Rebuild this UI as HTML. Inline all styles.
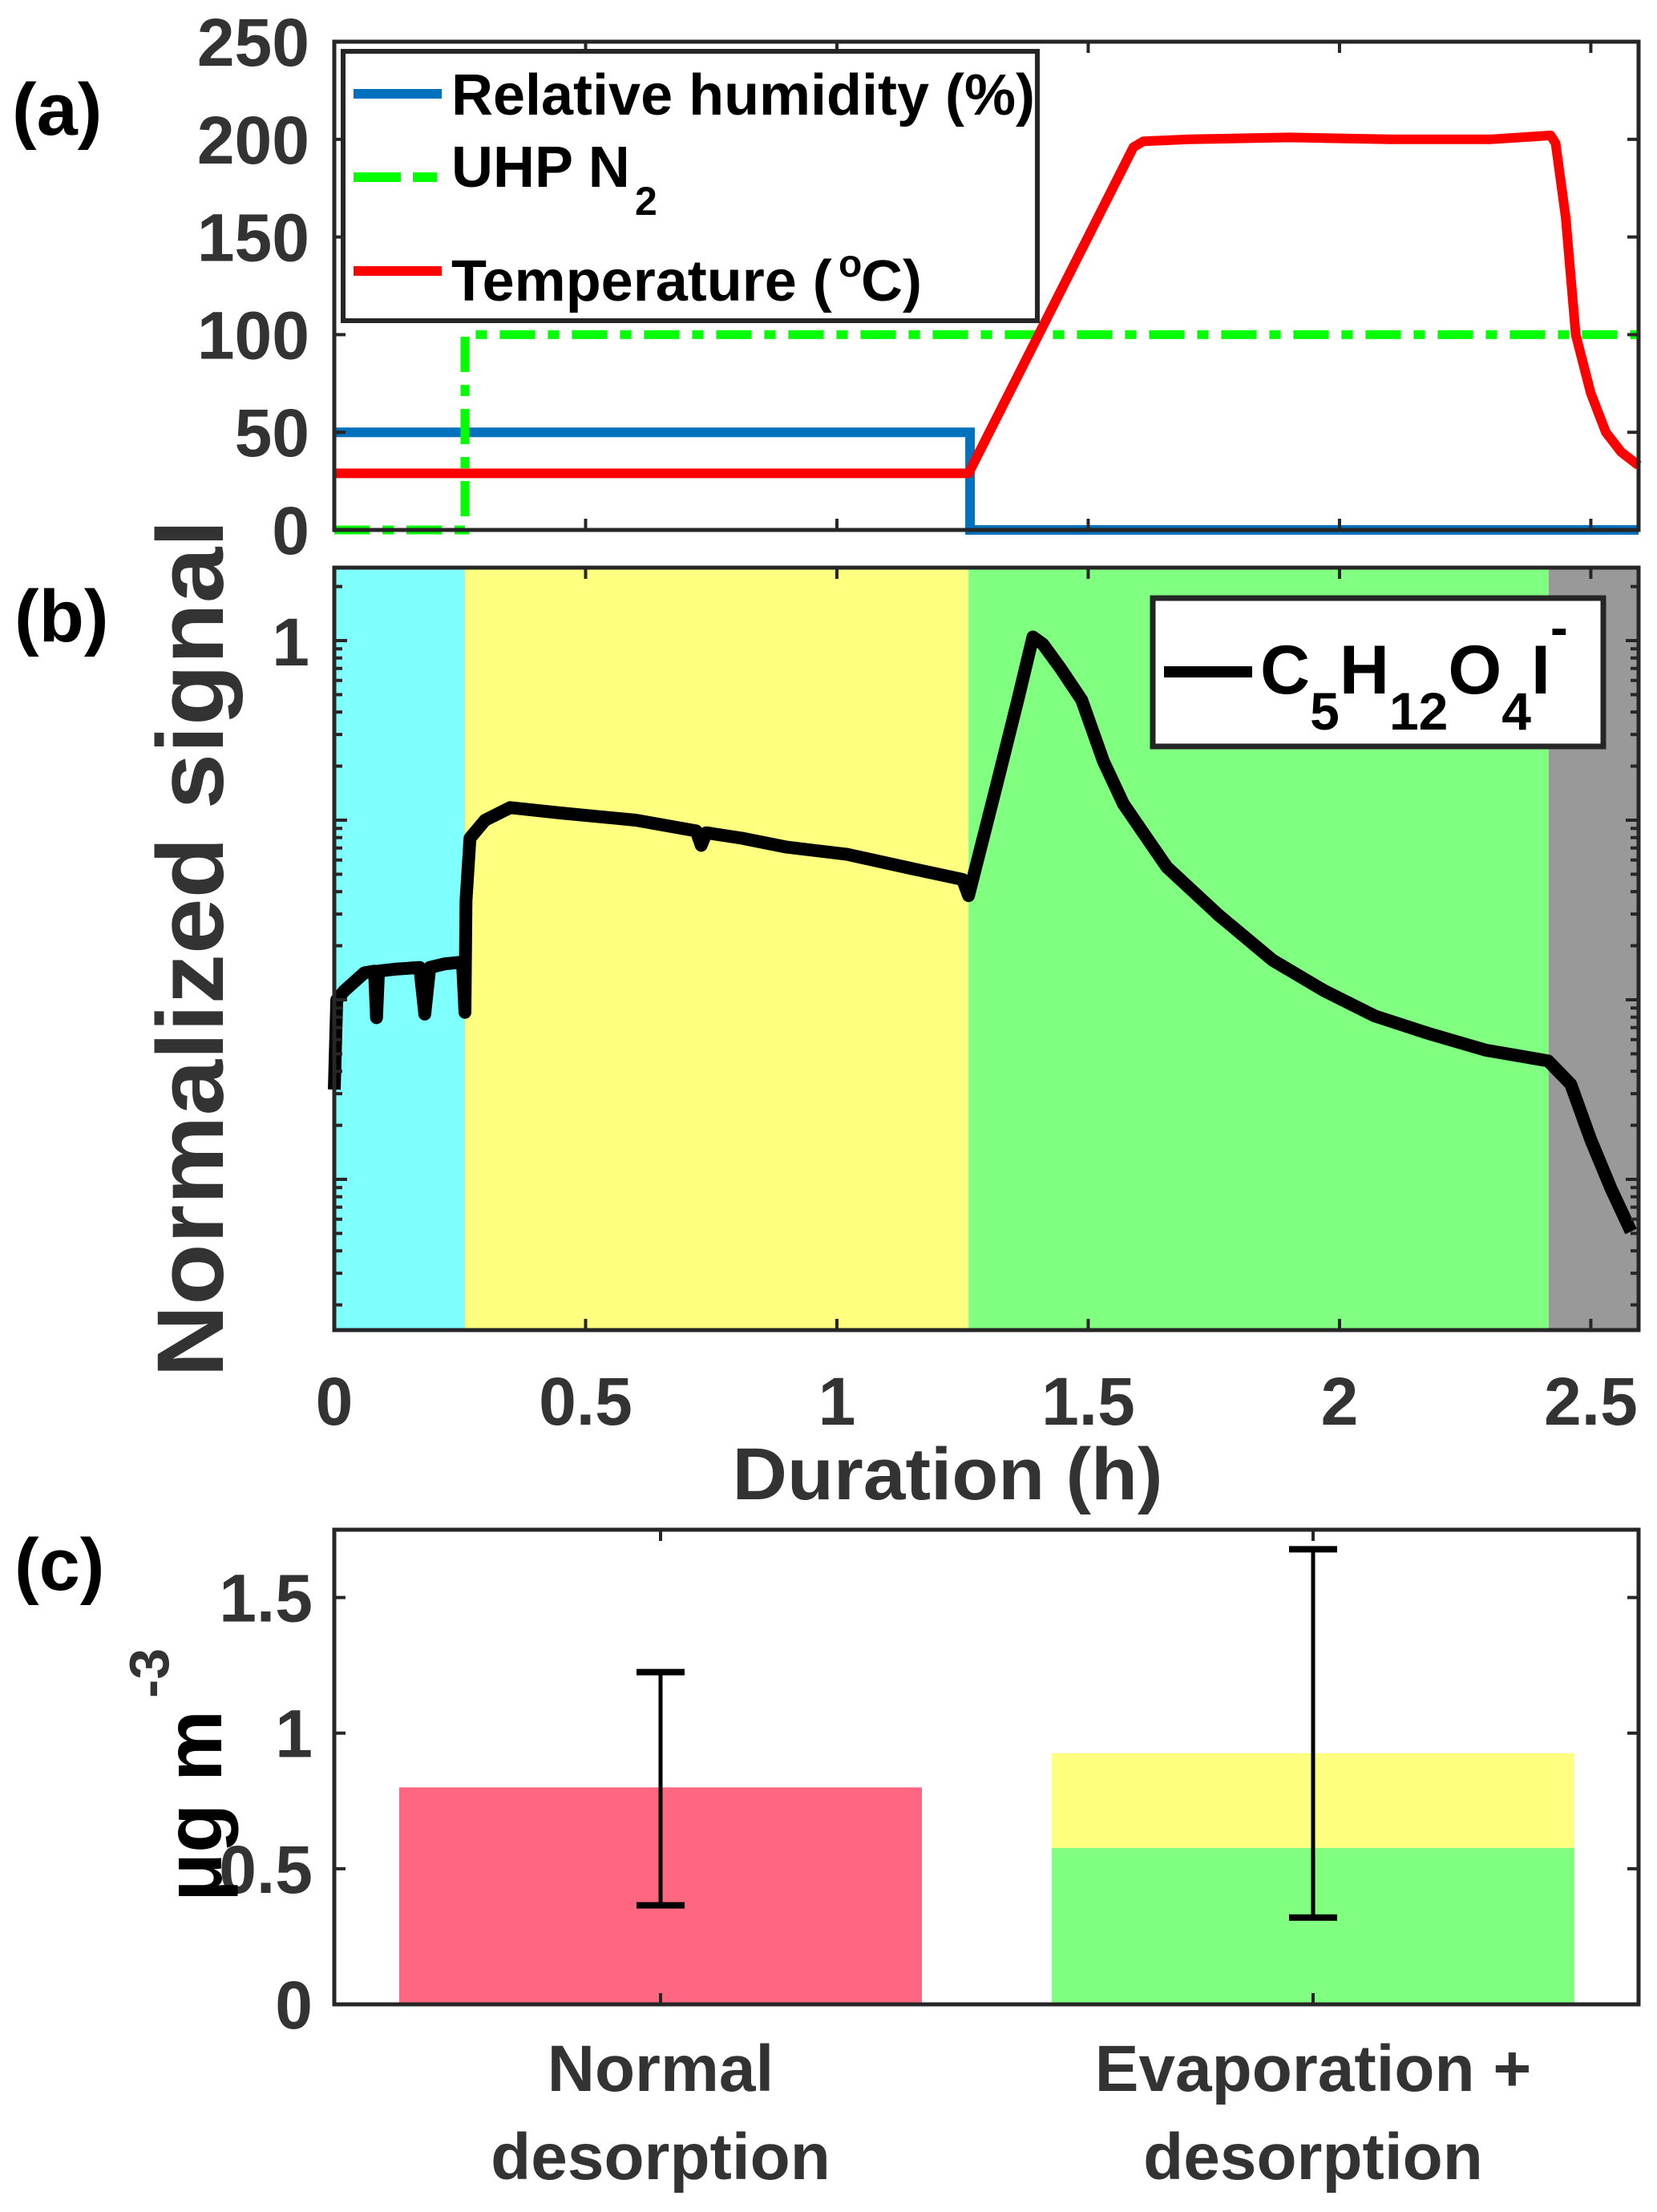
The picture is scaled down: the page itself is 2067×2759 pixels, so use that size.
<!DOCTYPE html>
<html><head><meta charset="utf-8"><style>
html,body{margin:0;padding:0;background:#fff;}
svg{display:block;font-family:"Liberation Sans",Arial,sans-serif;font-weight:bold;}
</style></head><body>
<svg id="fig" width="2067" height="2759" viewBox="0 0 2067 2759" xmlns="http://www.w3.org/2000/svg">
<g id="pa"></g>
<g id="pb"></g>
<g id="pc"></g>
</svg>
<script>
// ---------- Panel (a) data ----------
const rhTime = [0, 1.265, 1.265, 2.595];
const rhVals = [50, 50, 0, 0];
const n2Time = [0, 0.26, 0.26, 2.595];
const n2Vals = [0, 0, 100, 100];
const tempTime = [0, 0.5, 1.0, 1.262, 1.59, 1.61, 1.7, 1.9, 2.1, 2.3, 2.42, 2.43, 2.45, 2.47, 2.5, 2.53, 2.56, 2.595];
const tempVals = [29, 29, 29, 29, 196, 199, 200, 201, 200, 200, 202, 198, 160, 100, 70, 50, 40, 33];
const aYTicks = [0, 50, 100, 150, 200, 250];
const xTicks = [0, 0.5, 1, 1.5, 2, 2.5];
const xTickLabels = ["0", "0.5", "1", "1.5", "2", "2.5"];
// ---------- Panel (b) data ----------
const phaseStarts = [0, 0.26, 1.262, 2.416];
const phaseEnds = [0.26, 1.262, 2.416, 2.595];
const sigTime = [0, 0.005, 0.02, 0.06, 0.08, 0.084, 0.088, 0.12, 0.17, 0.18, 0.19, 0.22, 0.255, 0.26, 0.262, 0.27, 0.3, 0.35, 0.45, 0.6, 0.72, 0.73, 0.74, 0.81, 0.9, 1.02, 1.15, 1.25, 1.262, 1.3, 1.32, 1.36, 1.39, 1.41, 1.445, 1.487, 1.53, 1.57, 1.656, 1.76, 1.867, 1.97, 2.07, 2.18, 2.29, 2.415, 2.46, 2.5, 2.54, 2.58];
const sigLog = [-2.5, -2.0, -1.95, -1.85, -1.84, -2.1, -1.84, -1.83, -1.82, -2.08, -1.82, -1.8, -1.79, -2.07, -1.45, -1.1, -1.0, -0.93, -0.96, -1.0, -1.06, -1.14, -1.07, -1.1, -1.15, -1.19, -1.27, -1.33, -1.42, -1.0, -0.78, -0.33, 0.02, -0.02, -0.155, -0.33, -0.67, -0.91, -1.26, -1.53, -1.78, -1.95, -2.09, -2.19, -2.28, -2.34, -2.47, -2.78, -3.05, -3.29];
// ---------- Panel (c) data ----------
const cCats = ["Normal|desorption", "Evaporation +|desorption"];
const cLower = [0.80, 0.577];
const cUpper = [0, 0.349];
const cErrLo = [0.365, 0.32];
const cErrHi = [1.225, 1.678];
const cYTicks = [0, 0.5, 1, 1.5];
const cYTickLabels = ["0", "0.5", "1", "1.5"];

const NS = "http://www.w3.org/2000/svg";
function mk(parent, tag, attrs, text) {
  const e = document.createElementNS(NS, tag);
  for (const k in attrs) e.setAttribute(k, attrs[k]);
  if (text !== undefined) e.textContent = text;
  parent.appendChild(e);
  return e;
}
const L = 417, R = 2044;
const X = h => L + (h / 2.595) * (R - L);
const AX = "#262626", TXT = "#333";

// ===== Panel A =====
const pa = document.getElementById("pa");
const aTop = 52, aBot = 661;
const YA = v => aBot - v / 250 * (aBot - aTop);
function pathFrom(ts, vs, fx, fy) { return ts.map((t, i) => (i ? "L" : "M") + fx(t).toFixed(1) + "," + fy(vs[i]).toFixed(1)).join(""); }
let e;
e = mk(pa, "path", {d: pathFrom(rhTime, rhVals, X, YA), fill: "none", stroke: "#0072BD", "stroke-width": 12});
 
e = mk(pa, "path", {d: pathFrom(n2Time, n2Vals, X, YA), fill: "none", stroke: "#00FF00", "stroke-width": 11, "stroke-dasharray": "44 16 14 16"});
 
e = mk(pa, "path", {d: pathFrom(tempTime, tempVals, X, YA), fill: "none", stroke: "#FF0000", "stroke-width": 12, "stroke-linejoin": "round"});
 
e = mk(pa, "rect", {x: L, y: aTop, width: R - L, height: aBot - aTop, fill: "none", stroke: AX, "stroke-width": 5});
 
aYTicks.forEach(v => {
  mk(pa, "line", {x1: L, x2: L + 14, y1: YA(v), y2: YA(v), stroke: AX, "stroke-width": 4});
  mk(pa, "line", {x1: R, x2: R - 14, y1: YA(v), y2: YA(v), stroke: AX, "stroke-width": 4});
  const t = mk(pa, "text", {x: 386, y: YA(v) + 30, "text-anchor": "end", "font-size": 84, fill: TXT}, String(v));
   
});
xTicks.forEach(h => {
  mk(pa, "line", {x1: X(h), x2: X(h), y1: aBot, y2: aBot - 14, stroke: AX, "stroke-width": 4});
  mk(pa, "line", {x1: X(h), x2: X(h), y1: aTop, y2: aTop + 14, stroke: AX, "stroke-width": 4});
});
e = mk(pa, "text", {x: 15, y: 168, "font-size": 92, fill: "#000"}, "(a)");
 
// legend A
const lga = mk(pa, "g", {});
 
mk(lga, "rect", {x: 428, y: 64, width: 866, height: 336, fill: "#fff", stroke: AX, "stroke-width": 6});
mk(lga, "line", {x1: 441, x2: 551, y1: 117, y2: 117, stroke: "#0072BD", "stroke-width": 12});
mk(lga, "line", {x1: 441, x2: 551, y1: 221, y2: 221, stroke: "#00FF00", "stroke-width": 12, "stroke-dasharray": "59 15 30 100"});
mk(lga, "line", {x1: 441, x2: 551, y1: 338, y2: 338, stroke: "#FF0000", "stroke-width": 12});
e = mk(lga, "text", {x: 563, y: 143, "font-size": 72, fill: "#000", textLength: 728, lengthAdjust: "spacingAndGlyphs"}, "Relative humidity (%)");
 
e = mk(lga, "text", {x: 563, y: 233, "font-size": 72, fill: "#000"}, "UHP N");
 
mk(lga, "text", {x: 792, y: 268, "font-size": 50, fill: "#000"}, "2");
e = mk(lga, "text", {x: 563, y: 375, "font-size": 72, fill: "#000"}, "Temperature (");
 
mk(lga, "text", {x: 1046, y: 345, "font-size": 48, fill: "#000"}, "o");
mk(lga, "text", {x: 1074, y: 375, "font-size": 72, fill: "#000"}, "C)");

// ===== Panel B =====
const pb = document.getElementById("pb");
const bTop = 708, bBot = 1659, y1 = 799, dec = 224;
const YB = lg => y1 - lg * dec;
const phaseColors = ["#80FFFF", "#FFFF80", "#80FF80", "#999999"];
const phaseNames = ["phase-cyan", "phase-yellow", "phase-green", "phase-gray"];
phaseStarts.forEach((s, i) => {
  const r = mk(pb, "rect", {x: X(s), y: bTop, width: X(phaseEnds[i]) - X(s), height: bBot - bTop, fill: phaseColors[i]});
   
});
e = mk(pb, "path", {d: pathFrom(sigTime, sigLog, X, YB), fill: "none", stroke: "#000", "stroke-width": 16, "stroke-linejoin": "round"});
 
e = mk(pb, "rect", {x: L, y: bTop, width: R - L, height: bBot - bTop, fill: "none", stroke: AX, "stroke-width": 5});
 
for (let d = -4; d <= 0; d++) {
  for (let m = 1; m <= 9; m++) {
    const y = YB(d + Math.log10(m));
    if (y < bTop || y > bBot) continue;
    const len = m === 1 ? 16 : 10;
    mk(pb, "line", {x1: L, x2: L + len, y1: y, y2: y, stroke: AX, "stroke-width": 4});
    mk(pb, "line", {x1: R, x2: R - len, y1: y, y2: y, stroke: AX, "stroke-width": 4});
  }
}
mk(pb, "line", {x1: L, x2: L + 10, y1: YB(Math.log10(2)), y2: YB(Math.log10(2)), stroke: AX, "stroke-width": 4});
e = mk(pb, "text", {x: 386, y: 830, "text-anchor": "end", "font-size": 84, fill: TXT}, "1");
 
xTicks.forEach((h, i) => {
  mk(pb, "line", {x1: X(h), x2: X(h), y1: bBot, y2: bBot - 14, stroke: AX, "stroke-width": 4});
  mk(pb, "line", {x1: X(h), x2: X(h), y1: bTop, y2: bTop + 14, stroke: AX, "stroke-width": 4});
  const t = mk(pb, "text", {x: X(h), y: 1777, "text-anchor": "middle", "font-size": 84, fill: TXT}, xTickLabels[i]);
   
});
e = mk(pb, "text", {x: 1182, y: 1870, "text-anchor": "middle", "font-size": 92, fill: TXT, textLength: 537, lengthAdjust: "spacingAndGlyphs"}, "Duration (h)");
 
e = mk(pb, "text", {x: 0, y: 0, transform: "translate(278,1183) rotate(-90)", "text-anchor": "middle", "font-size": 118, fill: TXT, textLength: 1070, lengthAdjust: "spacingAndGlyphs"}, "Normalized signal");
 
e = mk(pb, "text", {x: 18, y: 800, "font-size": 92, fill: "#000"}, "(b)");
 
const lgb = mk(pb, "g", {});
 
mk(lgb, "rect", {x: 1438, y: 746, width: 562, height: 185, fill: "#fff", stroke: AX, "stroke-width": 7});
mk(lgb, "line", {x1: 1452, x2: 1562, y1: 838, y2: 838, stroke: "#000", "stroke-width": 14});
const ft = mk(lgb, "text", {x: 1572, y: 865, "font-size": 86, fill: "#000"});
[["C", 0, 86], ["5", 45, 66], ["H", -45, 86], ["12", 45, 66], ["O", -45, 86], ["4", 45, 66], ["I", -45, 86], ["-", -60, 66]].forEach(p => {
  mk(ft, "tspan", {dy: p[1], "font-size": p[2]}, p[0]);
});

// ===== Panel C =====
const pc = document.getElementById("pc");
const cTop = 1908, cBot = 2500;
const YC = v => cBot - v / 1.75 * (cBot - cTop);
const barLeft = [498, 1312], barW = 652, barCx = [824, 1638];
cCats.forEach((c, i) => {
  let r = mk(pc, "rect", {x: barLeft[i], y: YC(cLower[i]), width: barW, height: cBot - YC(cLower[i]), fill: i === 0 ? "#FF6680" : "#80FF80"});
  
  
  if (cUpper[i] > 0) {
    r = mk(pc, "rect", {x: barLeft[i], y: YC(cLower[i] + cUpper[i]), width: barW, height: YC(cLower[i]) - YC(cLower[i] + cUpper[i]), fill: "#FFFF80"});
    
    
  }
});
e = mk(pc, "rect", {x: L, y: cTop, width: R - L, height: cBot - cTop, fill: "none", stroke: AX, "stroke-width": 5});
 
cCats.forEach((c, i) => {
  const g = mk(pc, "g", {});
   
  mk(g, "line", {x1: barCx[i], x2: barCx[i], y1: YC(cErrLo[i]), y2: YC(cErrHi[i]), stroke: "#000", "stroke-width": 5});
  mk(g, "line", {x1: barCx[i] - 30, x2: barCx[i] + 30, y1: YC(cErrLo[i]), y2: YC(cErrLo[i]), stroke: "#000", "stroke-width": 8});
  mk(g, "line", {x1: barCx[i] - 30, x2: barCx[i] + 30, y1: YC(cErrHi[i]), y2: YC(cErrHi[i]), stroke: "#000", "stroke-width": 8});
  mk(pc, "line", {x1: barCx[i], x2: barCx[i], y1: cBot, y2: cBot - 14, stroke: AX, "stroke-width": 4});
  mk(pc, "line", {x1: barCx[i], x2: barCx[i], y1: cTop, y2: cTop + 14, stroke: AX, "stroke-width": 4});
  const parts = c.split("|");
  parts.forEach((p, k) => {
    const t = mk(pc, "text", {x: barCx[i], y: 2608 + k * 110, "text-anchor": "middle", "font-size": 82, fill: TXT}, p);
     
  });
});
cYTicks.forEach((v, i) => {
  mk(pc, "line", {x1: L, x2: L + 14, y1: YC(v), y2: YC(v), stroke: AX, "stroke-width": 4});
  mk(pc, "line", {x1: R, x2: R - 14, y1: YC(v), y2: YC(v), stroke: AX, "stroke-width": 4});
  const t = mk(pc, "text", {x: 390, y: YC(v) + 30, "text-anchor": "end", "font-size": 84, fill: TXT}, cYTickLabels[i]);
   
});
e = mk(pc, "text", {x: 0, y: 0, transform: "translate(276,2372) rotate(-90)", "font-size": 100, fill: "#000"}, "μg m");
 
mk(pc, "text", {x: 0, y: 0, transform: "translate(210,2118) rotate(-90)", "font-size": 70, fill: TXT}, "-3");
e = mk(pc, "text", {x: 18, y: 1983, "font-size": 92, fill: "#000"}, "(c)");
 
</script>
</body></html>
